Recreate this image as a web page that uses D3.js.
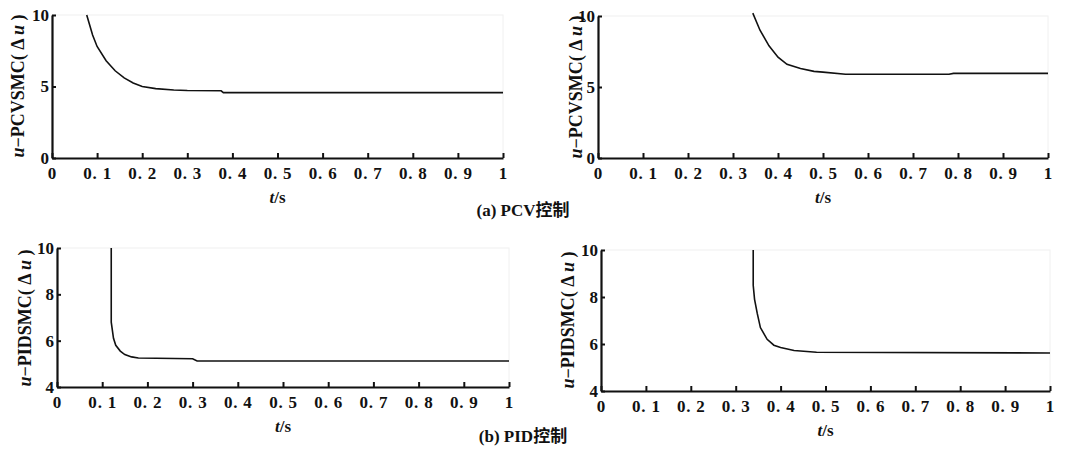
<!DOCTYPE html>
<html><head><meta charset="utf-8">
<script src="https://cdn.jsdelivr.net/npm/d3@7"></script>
<style>body{margin:0;background:#fff}svg{display:block}</style>
</head><body>
<script>
const xTicks = [0,0.1,0.2,0.3,0.4,0.5,0.6,0.7,0.8,0.9,1];
const yTicksA = [0,5,10];
const yTicksB = [4,6,8,10];

const p1T = [0.077,0.09,0.1,0.12,0.14,0.16,0.18,0.2,0.23,0.27,0.3,0.375,0.38,1];
const p1V = [10,8.6,7.8,6.8,6.1,5.6,5.25,5.0,4.85,4.75,4.72,4.7,4.57,4.57];
const p2T = [0.344,0.36,0.38,0.4,0.42,0.45,0.48,0.5,0.55,0.78,0.79,1];
const p2V = [10.2,9.0,7.9,7.1,6.6,6.3,6.1,6.05,5.9,5.9,5.96,5.96];
const p3T = [0.12,0.12,0.125,0.13,0.14,0.15,0.165,0.18,0.3,0.31,1];
const p3V = [10,6.8,6.1,5.8,5.55,5.4,5.3,5.25,5.22,5.12,5.12];
const p4T = [0.339,0.339,0.342,0.348,0.355,0.37,0.385,0.4,0.43,0.48,1];
const p4V = [10,8.5,7.9,7.3,6.7,6.2,5.95,5.85,5.72,5.65,5.62];

const yLabelA = "PCVSMC";
const yLabelB = "PIDSMC";
const captions = ["(a) PCV控制","(b) PID控制"];

const W = 1071, H = 449;
const svg = d3.select("body").append("svg").attr("width",W).attr("height",H);
const font = "'Liberation Serif','Times New Roman',serif";

const panels = [
  {l:52,r:503,t:15,b:158,dom:[0,10],ticks:yTicksA,T:p1T,V:p1V,lab:yLabelA,lx:20,cy:86},
  {l:598,r:1048,t:16,b:158,dom:[0,10],ticks:yTicksA,T:p2T,V:p2V,lab:yLabelA,lx:578,cy:87},
  {l:57,r:509,t:248,b:387,dom:[4,10],ticks:yTicksB,T:p3T,V:p3V,lab:yLabelB,lx:27,cy:318},
  {l:601,r:1050,t:250,b:391,dom:[4,10],ticks:yTicksB,T:p4T,V:p4V,lab:yLabelB,lx:570,cy:320}
];

const fmt = d => d===0 ? "0" : d===1 ? "1" : "0. " + Math.round(d*10);

panels.forEach(p => {
  const x = d3.scaleLinear().domain([0,1]).range([p.l,p.r]);
  const y = d3.scaleLinear().domain(p.dom).range([p.b,p.t]);
  const g = svg.append("g");
  g.append("rect").attr("x",p.l).attr("y",p.t).attr("width",p.r-p.l).attr("height",p.b-p.t)
    .attr("fill","none").attr("stroke","#f0f0f0").attr("stroke-width",1);
  const xa = g.append("g").attr("transform",`translate(0,${p.b})`)
    .call(d3.axisBottom(x).tickValues(xTicks).tickSize(-5).tickSizeOuter(0).tickFormat(fmt).tickPadding(9));
  const ya = g.append("g").attr("transform",`translate(${p.l},0)`)
    .call(d3.axisLeft(y).tickValues(p.ticks).tickSize(-4).tickSizeOuter(0).tickFormat(d3.format("d")).tickPadding(3));
  [xa,ya].forEach(a=>{
    a.select(".domain").attr("stroke","#111").attr("stroke-width",2.2);
    a.selectAll(".tick line").attr("stroke","#111").attr("stroke-width",2);
    a.selectAll("text").attr("font-family",font).attr("font-weight","bold").attr("font-size",17).attr("fill","#111");
  });
  xa.selectAll("text").attr("letter-spacing",0.8);
  const line = d3.line().x((d,i)=>x(p.T[i])).y((d,i)=>y(p.V[i]));
  g.append("path").datum(p.V).attr("d",line).attr("fill","none").attr("stroke","#111").attr("stroke-width",1.6);
  const yl = g.append("text").attr("transform",`translate(${p.lx},${p.cy}) rotate(-90)`)
    .attr("text-anchor","middle").attr("dominant-baseline","middle")
    .attr("font-family",font).attr("font-weight","bold").attr("font-size",18).attr("fill","#111");
  yl.append("tspan").attr("font-style","italic").text("u");
  yl.append("tspan").text("−"+p.lab+"( Δ ");
  yl.append("tspan").attr("font-style","italic").text("u");
  yl.append("tspan").text(" )");
  const xl = g.append("text").attr("x",(p.l+p.r)/2).attr("y",p.b+45).attr("text-anchor","middle")
    .attr("font-family",font).attr("font-weight","bold").attr("font-size",17).attr("fill","#111");
  xl.append("tspan").attr("font-style","italic").text("t");
  xl.append("tspan").text("/s");
});

svg.selectAll("text.cap").data(captions).enter().append("text")
  .attr("x",523).attr("y",(d,i)=> i===0 ? 216 : 442).attr("text-anchor","middle")
  .attr("font-family",font+",'Noto Sans CJK SC'").attr("font-weight","bold").attr("font-size",17).attr("fill","#111")
  .text(d=>d);
</script>
</body></html>
